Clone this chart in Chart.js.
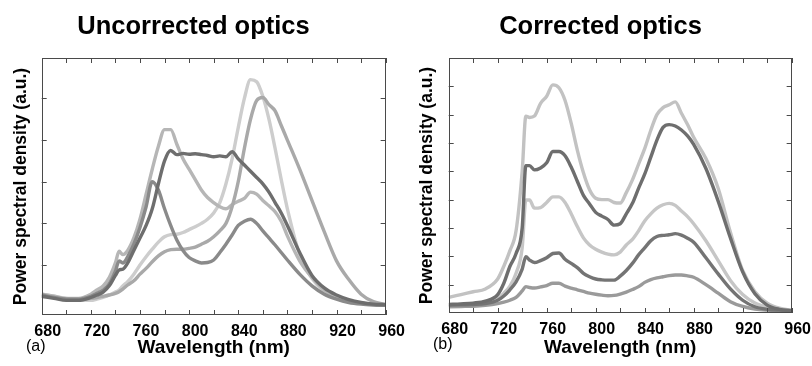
<!DOCTYPE html>
<html>
<head>
<meta charset="utf-8">
<title>Power spectral density</title>
<script src="https://cdn.jsdelivr.net/npm/chart.js@4/dist/chart.umd.min.js"></script>
<style>
  html, body { margin: 0; padding: 0; background: #fff; }
  #wrap { position: relative; width: 812px; height: 366px; }
  canvas { position: absolute; top: 0; }
  #left { left: 0; }
  #right { left: 406px; }
</style>
</head>
<body>
<div id="wrap">
  <canvas id="left" width="406" height="366"></canvas>
  <canvas id="right" width="406" height="366"></canvas>
</div>
<script>
// --- data (values in tick units of the y axis) ---
const wavelengths = [680, 690, 700, 710, 720, 725, 730, 735, 740, 743, 746,
  750, 755, 760, 765, 770, 775, 780, 785, 790, 795,
  800, 805, 810, 815, 820, 825, 830, 835, 840, 845,
  850, 855, 860, 865, 870, 875, 880,
  890, 900, 910, 920, 930, 940, 950, 960];

const xTickLabels = [680, 720, 760, 800, 840, 880, 920, 960];

// panel (a): uncorrected optics
const uncorrLightTall = [0.30, 0.25, 0.20, 0.15, 0.15, 0.18, 0.22, 0.28, 0.35, 0.40, 0.50,
  0.60, 0.78, 1.00, 1.20, 1.38, 1.55, 1.68, 1.73, 1.74, 1.78,
  1.85, 1.92, 2.00, 2.10, 2.25, 2.50, 2.95, 3.55, 4.30, 5.00,
  5.45, 5.40, 5.05, 4.50, 3.80, 3.05, 2.35,
  1.25, 0.68, 0.36, 0.20, 0.12, 0.08, 0.05, 0.04];
const uncorrMidRed = [0.25, 0.22, 0.18, 0.17, 0.20, 0.22, 0.25, 0.28, 0.32, 0.36, 0.42,
  0.52, 0.62, 0.78, 0.92, 1.08, 1.22, 1.32, 1.37, 1.38, 1.38,
  1.40, 1.43, 1.50, 1.57, 1.68, 1.82, 2.00, 2.40, 3.00, 3.80,
  4.50, 4.95, 5.02, 4.85, 4.70, 4.35, 4.00,
  3.30, 2.55, 1.80, 1.10, 0.65, 0.30, 0.12, 0.05];
const uncorrLightBlue = [0.30, 0.25, 0.20, 0.20, 0.30, 0.40, 0.50, 0.70, 1.05, 1.33, 1.25,
  1.35, 1.65, 2.10, 2.70, 3.30, 3.85, 4.25, 4.25, 3.90, 3.55,
  3.30, 3.05, 2.80, 2.62, 2.50, 2.40, 2.35, 2.45, 2.53, 2.60,
  2.75, 2.70, 2.55, 2.42, 2.28, 2.05, 1.70,
  1.10, 0.70, 0.40, 0.22, 0.13, 0.09, 0.06, 0.05];
const uncorrDarkFlat = [0.25, 0.20, 0.15, 0.15, 0.22, 0.28, 0.35, 0.50, 0.75, 0.88, 0.90,
  1.05, 1.35, 1.65, 1.95, 2.35, 2.95, 3.50, 3.75, 3.65, 3.68,
  3.66, 3.67, 3.65, 3.63, 3.60, 3.62, 3.60, 3.72, 3.55, 3.40,
  3.25, 3.10, 2.95, 2.75, 2.50, 2.25, 1.95,
  1.30, 0.75, 0.45, 0.28, 0.17, 0.10, 0.06, 0.05];
const uncorrMidBlue = [0.28, 0.22, 0.18, 0.18, 0.25, 0.32, 0.40, 0.55, 0.85, 1.10, 1.05,
  1.20, 1.50, 1.90, 2.40, 3.00, 2.80, 2.35, 1.95, 1.60, 1.35,
  1.18, 1.10, 1.05, 1.06, 1.12, 1.30, 1.50, 1.72, 1.95, 2.05,
  2.10, 2.00, 1.82, 1.65, 1.48, 1.30, 1.12,
  0.78, 0.50, 0.30, 0.18, 0.10, 0.06, 0.04, 0.03];

// panel (b): corrected optics
const corrTop = [0.55, 0.65, 0.75, 0.85, 1.20, 1.65, 2.20, 2.90, 5.00, 6.95, 6.90,
  6.95, 7.40, 7.65, 8.05, 7.95, 7.50, 6.70, 5.75, 4.95, 4.35,
  4.05, 4.00, 4.00, 3.90, 3.88, 4.25, 4.70, 5.25, 5.80, 6.45,
  7.00, 7.25, 7.35, 7.45, 7.05, 6.65, 6.20,
  5.45, 4.40, 2.85, 1.50, 0.75, 0.35, 0.17, 0.10];
const corrSecond = [0.30, 0.32, 0.35, 0.42, 0.65, 1.05, 1.65, 2.10, 3.00, 5.20, 5.20,
  5.05, 5.12, 5.30, 5.70, 5.70, 5.55, 5.15, 4.65, 4.15, 3.85,
  3.55, 3.42, 3.30, 3.10, 3.15, 3.50, 3.87, 4.40, 4.90, 5.50,
  6.10, 6.55, 6.65, 6.60, 6.46, 6.25, 5.95,
  5.10, 3.95, 2.65, 1.45, 0.68, 0.28, 0.13, 0.08];
const corrThird = [0.28, 0.30, 0.33, 0.38, 0.50, 0.70, 0.95, 1.40, 2.30, 3.99, 3.99,
  3.70, 3.72, 3.90, 4.10, 4.10, 3.90, 3.50, 3.05, 2.65, 2.40,
  2.25, 2.15, 2.08, 2.05, 2.15, 2.40, 2.60, 2.90, 3.25, 3.50,
  3.70, 3.82, 3.87, 3.80, 3.60, 3.40, 3.15,
  2.55, 1.85, 1.15, 0.65, 0.35, 0.20, 0.13, 0.10];
const corrFourth = [0.28, 0.29, 0.30, 0.33, 0.45, 0.60, 0.82, 1.10, 1.55, 1.99, 1.87,
  1.78, 1.85, 1.95, 2.10, 2.12, 1.90, 1.75, 1.60, 1.40, 1.28,
  1.20, 1.17, 1.16, 1.16, 1.30, 1.50, 1.75, 2.05, 2.30, 2.55,
  2.70, 2.74, 2.76, 2.80, 2.75, 2.64, 2.50,
  1.95, 1.38, 0.85, 0.45, 0.22, 0.13, 0.10, 0.08];
const corrBottom = [0.22, 0.23, 0.24, 0.27, 0.33, 0.38, 0.45, 0.55, 0.78, 0.93, 0.90,
  0.88, 0.92, 0.97, 1.05, 1.05, 0.95, 0.88, 0.82, 0.76, 0.70,
  0.66, 0.63, 0.61, 0.62, 0.67, 0.74, 0.83, 0.93, 1.08, 1.18,
  1.24, 1.28, 1.32, 1.34, 1.34, 1.31, 1.26,
  1.00, 0.70, 0.40, 0.23, 0.14, 0.10, 0.08, 0.07];

const FONT = "'Liberation Sans', Arial, Helvetica, sans-serif";

// box round the plot with small inward ticks on all four sides
const frameTicks = {
  id: 'frameTicks',
  afterDatasetsDraw(chart) {
    const { ctx, chartArea: a, scales: { x, y } } = chart;
    ctx.save();
    ctx.strokeStyle = '#4a4a4a';
    ctx.lineWidth = 1;
    ctx.strokeRect(Math.round(a.left) + 0.5, Math.round(a.top) + 0.5,
      Math.round(a.width) - 1, Math.round(a.height) - 1);
    ctx.beginPath();
    x.ticks.forEach(t => {
      const px = Math.round(x.getPixelForValue(t.value)) + 0.5;
      ctx.moveTo(px, a.top); ctx.lineTo(px, a.top + 5);
      ctx.moveTo(px, a.bottom); ctx.lineTo(px, a.bottom - 5);
    });
    y.ticks.forEach(t => {
      if (!Number.isInteger(t.value) || t.value <= y.min || t.value >= y.max) return;
      const py = Math.round(y.getPixelForValue(t.value)) + 0.5;
      ctx.moveTo(a.left, py); ctx.lineTo(a.left + 5, py);
      ctx.moveTo(a.right, py); ctx.lineTo(a.right - 5, py);
    });
    ctx.stroke();
    ctx.restore();
  }
};

// "(a)" / "(b)" under the lower left corner
const panelTag = {
  id: 'panelTag',
  afterDraw(chart, args, opts) {
    const { ctx, chartArea: a } = chart;
    ctx.save();
    ctx.font = '16px ' + FONT;
    ctx.fillStyle = '#000';
    ctx.textAlign = 'center';
    ctx.textBaseline = 'middle';
    ctx.fillText(opts.text, a.left - 6, a.bottom + 32);
    ctx.restore();
  }
};

function buildChart(id, cfg) {
  return new Chart(document.getElementById(id), {
    type: 'line',
    data: {
      datasets: cfg.series.map(s => ({
        data: s.values.map((v, i) => ({ x: wavelengths[i], y: v })),
        borderColor: s.color,
        borderWidth: 3.4,
        pointRadius: 0,
        fill: false,
        cubicInterpolationMode: 'monotone'
      }))
    },
    options: {
      responsive: false,
      animation: false,
      devicePixelRatio: 1,
      layout: { padding: { left: 0, right: cfg.padRight, top: 0, bottom: 0 } },
      plugins: {
        legend: { display: false },
        tooltip: { enabled: false },
        title: {
          display: true,
          text: cfg.title,
          color: '#000',
          font: { family: FONT, size: 25.5, weight: 'bold' },
          padding: { top: 11.5, bottom: 15.9 }
        },
        panelTag: { text: cfg.tag }
      },
      scales: {
        x: {
          type: 'linear',
          min: 680,
          max: 960,
          grid: { display: false, drawTicks: false },
          border: { display: false },
          ticks: {
            stepSize: 20,
            autoSkip: false,
            maxRotation: 0,
            labelOffset: 6,
            padding: 7,
            color: '#000',
            font: { family: FONT, size: 16, weight: 'bold' },
            callback: v => xTickLabels.includes(v) ? String(v) : ''
          },
          title: {
            display: true,
            text: 'Wavelength (nm)',
            color: '#000',
            font: { family: FONT, size: 19, weight: 'bold' },
            padding: { top: 0, bottom: 7 }
          },
          afterFit: s => { s.height = cfg.xHeight; }
        },
        y: {
          min: cfg.yMin,
          max: cfg.yMax,
          grid: { display: false, drawTicks: false },
          border: { display: false },
          ticks: { display: false, stepSize: 1 },
          title: {
            display: true,
            text: 'Power spectral density (a.u.)',
            color: '#000',
            font: { family: FONT, size: 17.5, weight: 'bold' },
            padding: { top: 11, bottom: 0 }
          },
          afterFit: s => { s.width = cfg.yWidth; }
        }
      }
    },
    plugins: [frameTicks, panelTag]
  });
}

buildChart('left', {
  title: 'Uncorrected optics',
  tag: '(a)',
  yMin: -0.2, yMax: 5.97,
  yWidth: 41.7, xHeight: 51, padRight: 19,
  series: [
    { values: uncorrDarkFlat, color: '#6e6e6e' },
    { values: uncorrMidBlue, color: '#8a8a8a' },
    { values: uncorrMidRed, color: '#a9a9a9' },
    { values: uncorrLightBlue, color: '#b6b6b6' },
    { values: uncorrLightTall, color: '#cdcdcd' }
  ]
});

buildChart('right', {
  title: 'Corrected optics',
  tag: '(b)',
  yMin: 0, yMax: 9,
  yWidth: 42.7, xHeight: 53, padRight: 17,
  series: [
    { values: corrSecond, color: '#6e6e6e' },
    { values: corrFourth, color: '#747474' },
    { values: corrBottom, color: '#9a9a9a' },
    { values: corrThird, color: '#c6c6c6' },
    { values: corrTop, color: '#c2c2c2' }
  ]
});
</script>
</body>
</html>
